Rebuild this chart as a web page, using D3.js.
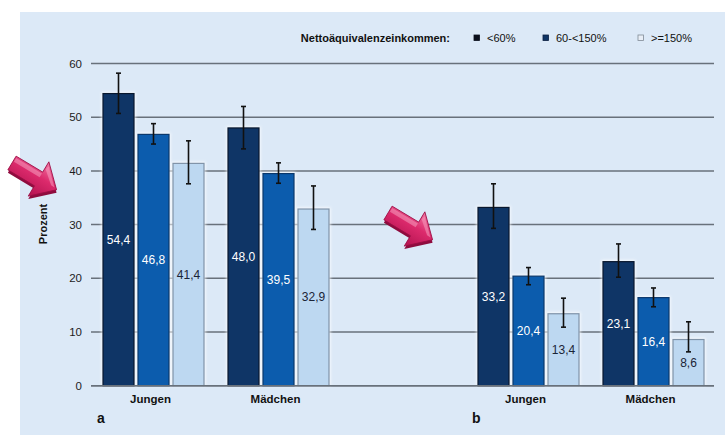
<!DOCTYPE html>
<html>
<head>
<meta charset="utf-8">
<script src="https://cdn.jsdelivr.net/npm/d3@7/dist/d3.min.js"></script>
<style>
  html, body { margin: 0; padding: 0; background: #ffffff; }
  svg { display: block; font-family: "Liberation Sans", Arial, sans-serif; }
</style>
</head>
<body>
<svg id="chart" width="725" height="438"></svg>
<script>
// Panels and groups along the x axis (an empty slot separates panel a and b)
const panels = ["a", "b"];
const groups = ["Jungen", "Mädchen"];
const slots = ["a|Jungen", "a|Mädchen", "gap", "b|Jungen", "b|Mädchen"];

// Income groups (legend)
const seriesNames = ["<60%", "60-<150%", ">=150%"];
const legendTitle = "Nettoäquivalenzeinkommen:";

// Percent values, ordered a|Jungen, a|Mädchen, b|Jungen, b|Mädchen
const valuesLow  = [54.4, 48.0, 33.2, 23.1];
const valuesMid  = [46.8, 39.5, 20.4, 16.4];
const valuesHigh = [41.4, 32.9, 13.4, 8.6];

// 95% confidence intervals
const ciLowLower  = [50.7, 44.1, 29.3, 20.2];
const ciLowUpper  = [58.2, 52.0, 37.6, 26.4];
const ciMidLower  = [45.0, 37.7, 18.8, 14.7];
const ciMidUpper  = [48.8, 41.5, 22.0, 18.2];
const ciHighLower = [37.6, 29.1, 10.9, 6.3];
const ciHighUpper = [45.6, 37.2, 16.3, 11.9];

const yTicks = [0, 10, 20, 30, 40, 50, 60];
const yLabel = "Prozent";

const fills   = ["#0f3566", "#0c5cad", "#bdd8f1"];
const borders = ["#08172e", "#0a376b", "#7f93a8"];
const labelColors = ["#ffffff", "#ffffff", "#1a2436"];

const groupKeys = ["a|Jungen", "a|Mädchen", "b|Jungen", "b|Mädchen"];
const values = [valuesLow, valuesMid, valuesHigh];
const ciLower = [ciLowLower, ciMidLower, ciHighLower];
const ciUpper = [ciLowUpper, ciMidUpper, ciHighUpper];

const rows = [];
groupKeys.forEach((g, gi) => {
  seriesNames.forEach((s, si) => {
    rows.push({ group: g, series: s, si, value: values[si][gi], lo: ciLower[si][gi], hi: ciUpper[si][gi] });
  });
});

const svg = d3.select("#chart");

// panel background
svg.append("rect").attr("x", 20).attr("y", 12).attr("width", 705).attr("height", 423)
  .attr("fill", "#dce9f7");

const defs = svg.append("defs");
const glow = defs.append("filter").attr("id", "glow")
  .attr("x", "-20%").attr("y", "-20%").attr("width", "140%").attr("height", "140%");
glow.append("feGaussianBlur").attr("stdDeviation", 1.4);

const grad = defs.append("linearGradient").attr("id", "arrowGrad")
  .attr("x1", "0").attr("y1", "0").attr("x2", "0").attr("y2", "1");
grad.append("stop").attr("offset", "0%").attr("stop-color", "#f27aa6");
grad.append("stop").attr("offset", "45%").attr("stop-color", "#dc2a6c");
grad.append("stop").attr("offset", "100%").attr("stop-color", "#b3124f");

const x = d3.scaleBand().domain(slots).range([91, 716]).paddingInner(0).paddingOuter(0);
const inner = d3.scaleBand().domain(seriesNames).range([0, 101]).paddingInner(4 / 35);
const groupOffset = (x.bandwidth() - 101) / 2;
const y = d3.scaleLinear().domain([0, 60]).range([385.7, 63.5]);

// gridlines
svg.append("g").selectAll("line").data(yTicks).join("line")
  .attr("x1", 91).attr("x2", 714)
  .attr("y1", d => y(d)).attr("y2", d => y(d))
  .attr("stroke", "#68717b").attr("stroke-width", 1.5);

// y tick labels
svg.append("g").selectAll("text").data(yTicks).join("text")
  .attr("x", 82).attr("y", d => y(d) + 4)
  .attr("text-anchor", "end").attr("font-size", 11.5).attr("fill", "#1c1c1c")
  .text(d => d);

svg.append("text")
  .attr("transform", "translate(47,224) rotate(-90)")
  .attr("text-anchor", "middle").attr("font-size", 11).attr("font-weight", "bold")
  .attr("fill", "#111").text(yLabel);

const barX = d => x(d.group) + groupOffset + inner(d.series);

// soft white halo around bars
svg.append("g").selectAll("rect").data(rows).join("rect")
  .attr("x", d => barX(d) - 1.5).attr("y", d => y(d.value) - 1.5)
  .attr("width", inner.bandwidth() + 3).attr("height", d => y(0) - y(d.value) + 1.5)
  .attr("fill", "#ffffff").attr("opacity", 0.8).attr("filter", "url(#glow)");

// bars
svg.append("g").selectAll("rect").data(rows).join("rect")
  .attr("x", d => barX(d)).attr("y", d => y(d.value))
  .attr("width", inner.bandwidth()).attr("height", d => y(0) - y(d.value))
  .attr("fill", d => fills[d.si]).attr("stroke", d => borders[d.si]).attr("stroke-width", 1.2);

// baseline over the bars
svg.append("line").attr("x1", 91).attr("x2", 714).attr("y1", y(0)).attr("y2", y(0))
  .attr("stroke", "#68717b").attr("stroke-width", 1.5);

// value labels
svg.append("g").selectAll("text").data(rows).join("text")
  .attr("x", d => barX(d) + inner.bandwidth() / 2)
  .attr("y", d => (y(d.value) + y(0)) / 2 + 4)
  .attr("text-anchor", "middle").attr("font-size", 12)
  .attr("fill", d => labelColors[d.si])
  .text(d => d.value.toFixed(1).replace(".", ","));

// error bars
const eb = svg.append("g").attr("stroke", "#111").attr("stroke-width", 1.6);
eb.selectAll("line.v").data(rows).join("line").attr("class", "v")
  .attr("x1", d => barX(d) + inner.bandwidth() / 2).attr("x2", d => barX(d) + inner.bandwidth() / 2)
  .attr("y1", d => y(d.hi)).attr("y2", d => y(d.lo));
["hi", "lo"].forEach(k => {
  eb.selectAll("line.c" + k).data(rows).join("line").attr("class", "c" + k)
    .attr("x1", d => barX(d) + inner.bandwidth() / 2 - 2.5)
    .attr("x2", d => barX(d) + inner.bandwidth() / 2 + 2.5)
    .attr("y1", d => y(d[k])).attr("y2", d => y(d[k]));
});

// category labels
svg.append("g").selectAll("text").data(groupKeys).join("text")
  .attr("x", d => x(d) + x.bandwidth() / 2 - 3).attr("y", 403)
  .attr("text-anchor", "middle").attr("font-size", 11.5).attr("font-weight", "bold")
  .attr("fill", "#111").text(d => d.split("|")[1]);

// panel letters
svg.append("g").selectAll("text").data(panels).join("text")
  .attr("x", d => x(d + "|Jungen") + 6).attr("y", 423)
  .attr("font-size", 14).attr("font-weight", "bold").attr("fill", "#111")
  .text(d => d);

// legend
const legend = svg.append("g").attr("font-size", 11).attr("fill", "#111");
legend.append("text").attr("x", 450).attr("y", 42).attr("text-anchor", "end")
  .attr("font-weight", "bold").text(legendTitle);
const legendX = [474, 543, 638];
const legendFill = ["#0a0f1c", "#0f3566", "#e8eef6"];
const legendStroke = ["#0a0f1c", "#0a1f40", "#7f8a96"];
seriesNames.forEach((s, i) => {
  legend.append("rect").attr("x", legendX[i]).attr("y", 35).attr("width", 5.5).attr("height", 5.5)
    .attr("fill", legendFill[i]).attr("stroke", legendStroke[i]).attr("stroke-width", 0.8);
  legend.append("text").attr("x", legendX[i] + 13).attr("y", 42).text(s);
});

// pointer arrows
const arrowPath = "M0,-8 L31,-8 L31,-20 L52,0 L31,20 L31,8 L0,8 Z";
const arrows = [{ x: 12, y: 163, a: 31 }, { x: 388, y: 213, a: 31 }];
const ag = svg.append("g").selectAll("g").data(arrows).join("g")
  .attr("transform", d => `translate(${d.x},${d.y}) rotate(${d.a})`);
// darker extruded edge for a 3D look
ag.append("path").attr("d", arrowPath).attr("transform", "translate(1.5,2.5)")
  .attr("fill", "#8e0c3e");
ag.append("path").attr("d", arrowPath).attr("fill", "url(#arrowGrad)")
  .attr("stroke", "#9c0e44").attr("stroke-width", 0.8).attr("stroke-linejoin", "round");
ag.append("path").attr("d", "M1,-6.5 L31,-6.5 L31,-2 L1,-2 Z M33,-16 L49,-1 L45,-1 L32,-12 Z")
  .attr("fill", "#f7a3c3").attr("opacity", 0.5);
</script>
</body>
</html>
